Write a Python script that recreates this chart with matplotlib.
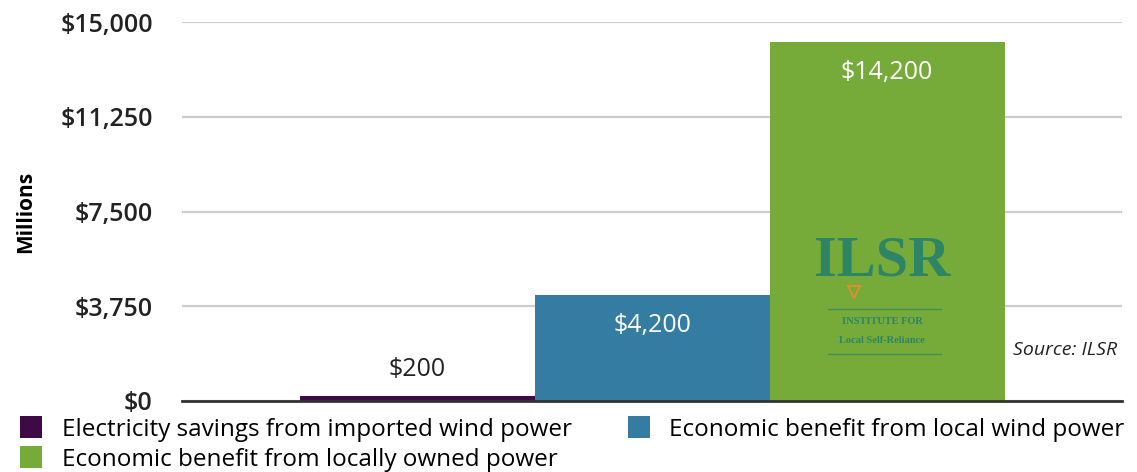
"""Bar chart of economic benefits of wind power ownership (ILSR)."""

import matplotlib
matplotlib.use("Agg")
import matplotlib.pyplot as plt
from matplotlib.patches import Patch
from matplotlib.lines import Line2D

# Chart data.
categories = [
    "Electricity savings from imported wind power",
    "Economic benefit from local wind power",
    "Economic benefit from locally owned power",
]
values = [200, 4200, 14200]
value_labels = ["$200", "$4,200", "$14,200"]
colors = ["#3d0a45", "#357ca3", "#76ab3a"]
y_ticks = [0, 3750, 7500, 11250, 15000]
y_tick_labels = ["$0", "$3,750", "$7,500", "$11,250", "$15,000"]

plt.rcParams["font.family"] = ["Open Sans", "DejaVu Sans"]

fig = plt.figure(figsize=(11.37, 4.72), dpi=100)
ax = fig.add_axes([182 / 1137, 71 / 472, 940 / 1137, 379 / 472])

# Draw the bars side by side.
positions = [1, 2, 3]
ax.bar(positions, values, width=1.0, color=colors, zorder=2)
ax.set_xlim(0, 4)
ax.set_ylim(0, 15000)

# Value labels: above the small bar, inside the tall ones.
for x, v, lab in zip(positions, values, value_labels):
    if v < 1000:
        ax.annotate(lab, (x, v), xytext=(0, 10), textcoords="offset points",
                    ha="center", va="bottom", fontsize=18, color="#222222")
    else:
        ax.annotate(lab, (x, v), xytext=(0, -22), textcoords="offset points",
                    ha="center", va="center", fontsize=18, color="white")

# Grid and axis styling.
ax.set_yticks(y_ticks)
ax.set_yticklabels(y_tick_labels, fontsize=18, color="#222222",
                   fontweight="semibold")
ax.set_xticks([])
ax.tick_params(axis="y", length=0, pad=21)
ax.grid(axis="y", color="#cccccc", linewidth=1.6, zorder=0)
ax.set_axisbelow(True)
for side in ["top", "right", "left"]:
    ax.spines[side].set_visible(False)
ax.spines["bottom"].set_color("#333333")
ax.spines["bottom"].set_linewidth(2)
ax.spines["bottom"].set_zorder(3)
ax.set_ylabel("Millions", fontsize=15, fontweight="bold")
ax.yaxis.set_label_coords(-0.155, 0.5)

# ILSR logo drawn as text over the green bar.
logo = "#2e8565"
ax.text(2.98, 6550, "ILSR", ha="center", va="top", fontsize=42,
        family="Liberation Serif", fontweight="bold", color=logo)
ax.plot([2.86], [4300], marker="v", markersize=9, markerfacecolor="none",
        markeredgecolor="#d9902e", markeredgewidth=1.5, zorder=4)
ax.text(2.98, 3130, "INSTITUTE FOR", ha="center", va="center", fontsize=7.5,
        family="Liberation Serif", color=logo, fontweight="bold")
ax.text(2.98, 2410, "Local Self-Reliance", ha="center", va="center", fontsize=7.5,
        family="Liberation Serif", color=logo, fontweight="bold")
ax.add_line(Line2D([2.75, 3.23], [3640, 3640], color=logo, linewidth=1, alpha=0.7))
ax.add_line(Line2D([2.75, 3.23], [1860, 1860], color=logo, linewidth=1, alpha=0.7))

# Source note.
ax.text(3.98, 2000, "Source: ILSR", ha="right", va="center", fontsize=14,
        style="italic", color="#222222")

# Legend in two columns, reordered so the third entry sits below the first.
handles = [Patch(facecolor=c) for c in colors]
order = [0, 2, 1]
fig.legend([handles[i] for i in order], [categories[i] for i in order],
           ncol=2, loc="upper left", bbox_to_anchor=(0.018, 0.118),
           frameon=False, fontsize=17.5, handlelength=0.9, handleheight=1.0,
           handletextpad=0.8, columnspacing=2.3, labelspacing=0.2,
           borderpad=0, borderaxespad=0)

fig.savefig("out.png", dpi=100)
